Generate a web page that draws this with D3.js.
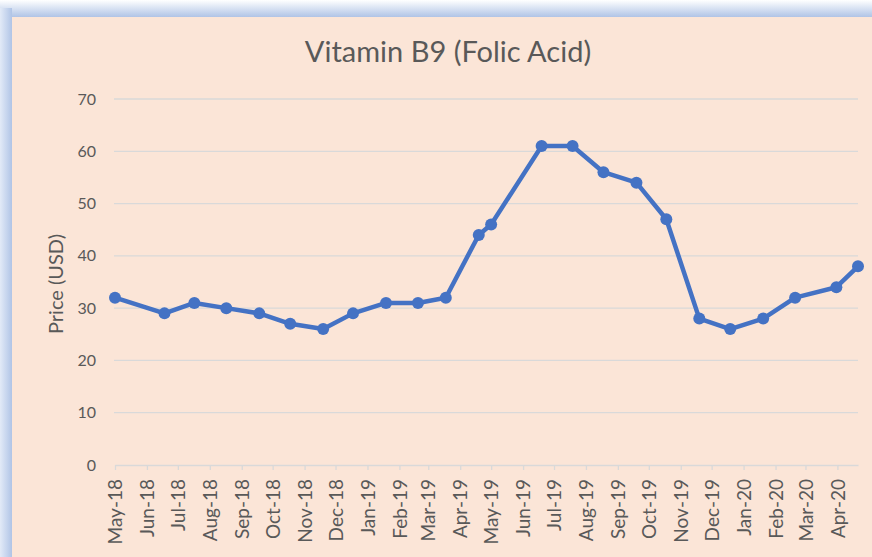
<!DOCTYPE html>
<html>
<head>
<meta charset="utf-8">
<script src="https://cdn.jsdelivr.net/npm/d3@7"></script>
<style>
  body { margin: 0; background: #fff; }
  svg { display: block; font-family: Lato, "Open Sans", sans-serif; }
</style>
</head>
<body>
<div class="canvas"></div>
<script>
// data
const dates = ['2018-05-01', '2018-06-18', '2018-07-17', '2018-08-17', '2018-09-18', '2018-10-18',
  '2018-11-19', '2018-12-18', '2019-01-19', '2019-02-19', '2019-03-18', '2019-04-19',
  '2019-05-01', '2019-06-19', '2019-07-19', '2019-08-18', '2019-09-19', '2019-10-18',
  '2019-11-19', '2019-12-19', '2020-01-20', '2020-02-20', '2020-03-31', '2020-04-21'];
const prices = [32, 29, 31, 30, 29, 27, 26, 29, 31, 31, 32, 44,
  46, 61, 61, 56, 54, 47, 28, 26, 28, 32, 34, 38];
const yTicks = [0, 10, 20, 30, 40, 50, 60, 70];
const title = 'Vitamin B9 (Folic Acid)';
const yLabel = 'Price (USD)';

const parse = d3.timeParse('%Y-%m-%d');
const data = dates.map((d, i) => ({ date: parse(d), price: prices[i] }));

const width = 872, height = 557;
const svg = d3.select('.canvas')
  .append('svg')
  .attr('width', width)
  .attr('height', height);

// blue frame gradients
const defs = svg.append('defs');
const gTop = defs.append('linearGradient').attr('id', 'gTop')
  .attr('x1', 0).attr('y1', 0).attr('x2', 0).attr('y2', 1);
gTop.append('stop').attr('offset', '0%').attr('stop-color', '#ffffff');
gTop.append('stop').attr('offset', '100%').attr('stop-color', '#b0c4e6');
const gLeft = defs.append('linearGradient').attr('id', 'gLeft')
  .attr('x1', 0).attr('y1', 0).attr('x2', 1).attr('y2', 0);
gLeft.append('stop').attr('offset', '0%').attr('stop-color', '#e2eaf7');
gLeft.append('stop').attr('offset', '100%').attr('stop-color', '#b0c4e6');

svg.append('rect').attr('x', 0).attr('y', 0).attr('width', width).attr('height', 17).attr('fill', 'url(#gTop)');
svg.append('rect').attr('x', 0).attr('y', 8).attr('width', 12).attr('height', height).attr('fill', 'url(#gLeft)');

// panel
svg.append('rect')
  .attr('x', 12).attr('y', 17)
  .attr('width', width - 12).attr('height', height - 17)
  .attr('fill', '#fbe5d7');

const margin = { top: 99, right: 14, bottom: 92, left: 115 };

const x = d3.scaleTime()
  .domain(d3.extent(data, d => d.date))
  .range([margin.left, width - margin.right]);

const y = d3.scaleLinear()
  .domain([0, 70])
  .range([height - margin.bottom, margin.top]);

// gridlines
svg.append('g')
  .selectAll('line')
  .data(yTicks.filter(t => t > 0))
  .enter()
  .append('line')
  .attr('x1', margin.left - 1)
  .attr('x2', width - margin.right)
  .attr('y1', d => y(d))
  .attr('y2', d => y(d))
  .attr('stroke', '#d9d9d9')
  .attr('stroke-width', 1.3);

// y axis (labels only)
const yAxis = d3.axisLeft(y).tickValues(yTicks).tickSize(0).tickPadding(0);
const yAxisGroup = svg.append('g')
  .attr('transform', `translate(${margin.left - 19}, 0)`)
  .call(yAxis);
yAxisGroup.select('.domain').remove();
yAxisGroup.selectAll('text')
  .attr('fill', '#595959')
  .style('font-size', '16px')
  .style('font-family', 'Lato, sans-serif');

// x axis
const xAxis = d3.axisBottom(x)
  .ticks(d3.timeMonth.every(1))
  .tickFormat(d3.timeFormat('%b-%y'))
  .tickSize(5)
  .tickSizeOuter(0);
const xAxisGroup = svg.append('g')
  .attr('transform', `translate(0, ${y(0)})`)
  .call(xAxis);
xAxisGroup.select('.domain').attr('stroke', '#d9d9d9').attr('stroke-width', 1.3);
xAxisGroup.selectAll('line').attr('stroke', '#d9d9d9').attr('stroke-width', 1.3);
xAxisGroup.selectAll('text')
  .attr('fill', '#595959')
  .style('font-size', '19px')
  .style('font-family', 'Lato, sans-serif')
  .attr('transform', 'rotate(-90)')
  .attr('text-anchor', 'end')
  .attr('x', -14)
  .attr('y', 0)
  .attr('dy', '0.35em');

// line
const line = d3.line()
  .x(d => x(d.date))
  .y(d => y(d.price));

svg.append('path')
  .datum(data)
  .attr('fill', 'none')
  .attr('stroke', '#4472c4')
  .attr('stroke-width', 4.5)
  .attr('stroke-linejoin', 'round')
  .attr('d', line);

svg.append('g')
  .selectAll('circle')
  .data(data)
  .enter()
  .append('circle')
  .attr('cx', d => x(d.date))
  .attr('cy', d => y(d.price))
  .attr('r', 6)
  .attr('fill', '#4472c4');

// title
svg.append('text')
  .attr('x', 448)
  .attr('y', 62)
  .attr('text-anchor', 'middle')
  .attr('fill', '#595959')
  .style('font-size', '29px')
  .text(title);

// y label
svg.append('text')
  .attr('transform', `translate(63, 284) rotate(-90)`)
  .attr('text-anchor', 'middle')
  .attr('fill', '#595959')
  .style('font-size', '20px')
  .text(yLabel);
</script>
</body>
</html>
